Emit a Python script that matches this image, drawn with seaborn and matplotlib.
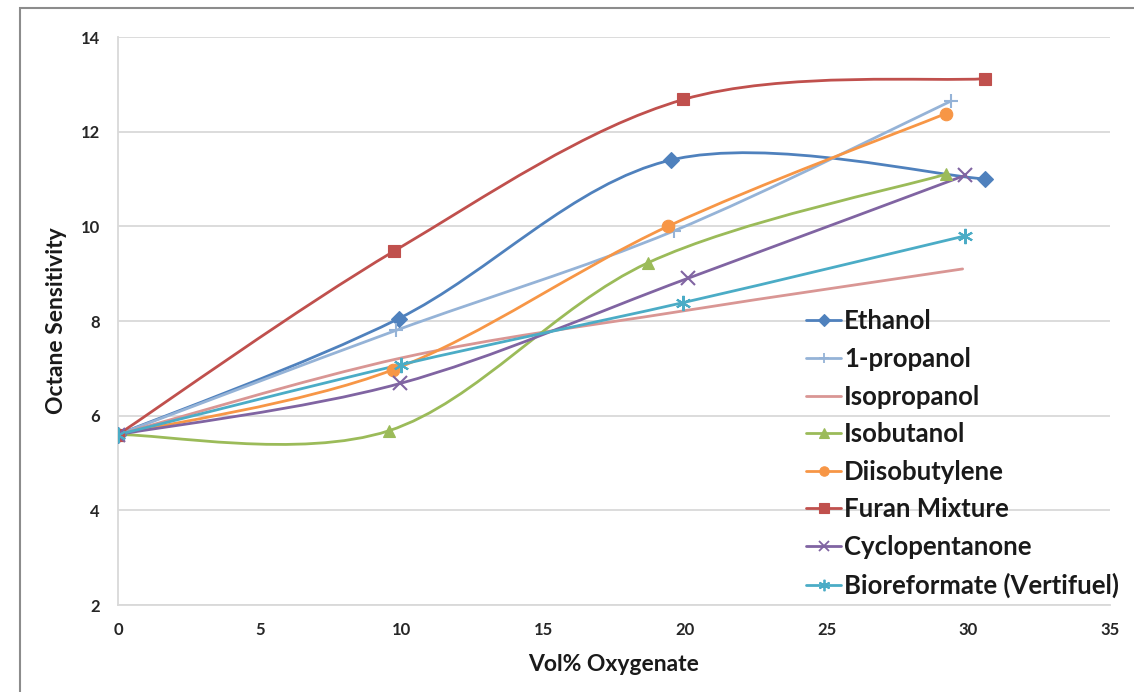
import numpy as np
import pandas as pd
import seaborn as sns
import matplotlib
matplotlib.use("Agg")
import matplotlib.pyplot as plt
from matplotlib.path import Path
from matplotlib.patches import PathPatch, Rectangle
from matplotlib.lines import Line2D

# values
names = ['Ethanol', '1-propanol', 'Isopropanol', 'Isobutanol',
         'Diisobutylene', 'Furan Mixture', 'Cyclopentanone', 'Bioreformate (Vertifuel)']

ethanol_x = [0, 9.9, 19.5, 30.6]
ethanol_y = [5.6, 8.05, 11.4, 11.0]
propanol_x = [0, 9.8, 19.6, 29.4]
propanol_y = [5.6, 7.8, 9.9, 12.65]
isopropanol_x = [0, 10, 19.8, 29.8]
isopropanol_y = [5.6, 7.22, 8.2, 9.1]
isobutanol_x = [0, 9.55, 18.7, 29.2]
isobutanol_y = [5.6, 5.68, 9.23, 11.1]
diisobutylene_x = [0, 9.7, 19.4, 29.2]
diisobutylene_y = [5.6, 6.97, 10.0, 12.38]
furan_x = [0, 9.75, 19.95, 30.6]
furan_y = [5.6, 9.48, 12.68, 13.12]
cyclo_x = [0, 9.95, 20.1, 29.9]
cyclo_y = [5.6, 6.68, 8.9, 11.08]
biorefo_x = [0, 10.0, 19.95, 29.9]
biorefo_y = [5.6, 7.08, 8.39, 9.8]

xs = [ethanol_x, propanol_x, isopropanol_x, isobutanol_x, diisobutylene_x, furan_x, cyclo_x, biorefo_x]
ys = [ethanol_y, propanol_y, isopropanol_y, isobutanol_y, diisobutylene_y, furan_y, cyclo_y, biorefo_y]

colors = ['#4F81BD', '#95B3D7', '#D99694', '#9BBB59', '#F79646', '#C0504D', '#8064A2', '#4BACC6']
markers = ['D', '+', None, '^', 'o', 's', 'x', (6, 2, 0)]
msizes = [8, 10, 0, 9, 9, 9, 10, 11]
thin = ['+', 'x', (6, 2, 0)]

sns.set_theme(style='white')
plt.rcParams['font.family'] = ['Lato', 'DejaVu Sans']
plt.rcParams['font.weight'] = 'bold'


def smooth_path(x, y):
    # Excel-style smoothed line: cubic bezier through the points
    p = np.column_stack([x, y]).astype(float)
    n = len(p)
    verts = [p[0]]
    codes = [Path.MOVETO]
    for i in range(n - 1):
        p0 = p[max(i - 1, 0)]
        p1 = p[i]
        p2 = p[i + 1]
        p3 = p[min(i + 2, n - 1)]
        c1 = p1 + (p2 - p0) / 6.0
        c2 = p2 - (p3 - p1) / 6.0
        verts += [c1, c2, p2]
        codes += [Path.CURVE4] * 3
    return Path(verts, codes)


fig = plt.figure(figsize=(11.34, 6.92), dpi=100)
ax = fig.add_axes([118 / 1134, 1 - 605 / 692, (1110 - 118) / 1134, (605 - 37) / 692])

for name, x, y, c, m, ms in zip(names, xs, ys, colors, markers, msizes):
    ax.add_patch(PathPatch(smooth_path(x, y), facecolor='none', edgecolor=c,
                           lw=2.0, zorder=3, capstyle='round'))
    if m is not None:
        df = pd.DataFrame({'x': x, 'y': y})
        sns.lineplot(data=df, x='x', y='y', ax=ax, color=c, marker=m, markersize=ms,
                     linestyle='', markeredgewidth=1.5 if m in thin else 0.8,
                     markeredgecolor=c, zorder=4)

ax.set_xlim(0, 35)
ax.set_ylim(2, 14)
ax.set_xticks(np.arange(0, 36, 5))
ax.set_yticks(np.arange(2, 15, 2))
ax.yaxis.grid(True, color='#D9D9D9', lw=1.3)
ax.xaxis.grid(False)
for s in ['top', 'right']:
    ax.spines[s].set_visible(False)
for s in ['left', 'bottom']:
    ax.spines[s].set_color('#D9D9D9')
    ax.spines[s].set_linewidth(1.3)
ax.tick_params(axis='both', which='both', direction='out', length=5, width=1.2,
               color='#D9D9D9', labelsize=12, labelcolor='#262626')
ax.tick_params(axis='y', pad=8)
ax.tick_params(axis='x', pad=7)
for lab in ax.get_xticklabels() + ax.get_yticklabels():
    lab.set_fontweight('bold')

ax.set_xlabel('Vol% Oxygenate', fontsize=16.5, fontweight='bold', color='#1a1a1a', labelpad=12)
ax.set_ylabel('Octane Sensitivity', fontsize=16.5, fontweight='bold', color='#1a1a1a', labelpad=10)

handles = []
for name, c, m, ms in zip(names, colors, markers, msizes):
    handles.append(Line2D([], [], color=c, lw=2.0, marker=m if m is not None else None,
                          markersize=ms * 0.75, markeredgecolor=c,
                          markeredgewidth=1.3 if m in thin else 0.8))
leg = ax.legend(handles, names, loc='lower right',
                bbox_to_anchor=(1119 / 1134, 1 - 598 / 692), bbox_transform=fig.transFigure,
                frameon=False, prop={'family': ['Lato', 'DejaVu Sans'], 'weight': 'bold', 'size': 18.5},
                handlelength=1.35, handletextpad=0.12, labelspacing=0.53,
                borderaxespad=0, borderpad=0)
for t in leg.get_texts():
    t.set_color('#1a1a1a')

# outer chart frame (clipped by the picture on the right and bottom)
fig.patches.append(Rectangle((20 / 1134, -0.2), 1.2, 1.2 - 8 / 692,
                             transform=fig.transFigure, fill=False,
                             edgecolor='#8C8C8C', lw=1.5))

fig.savefig('out.png', dpi=100)
